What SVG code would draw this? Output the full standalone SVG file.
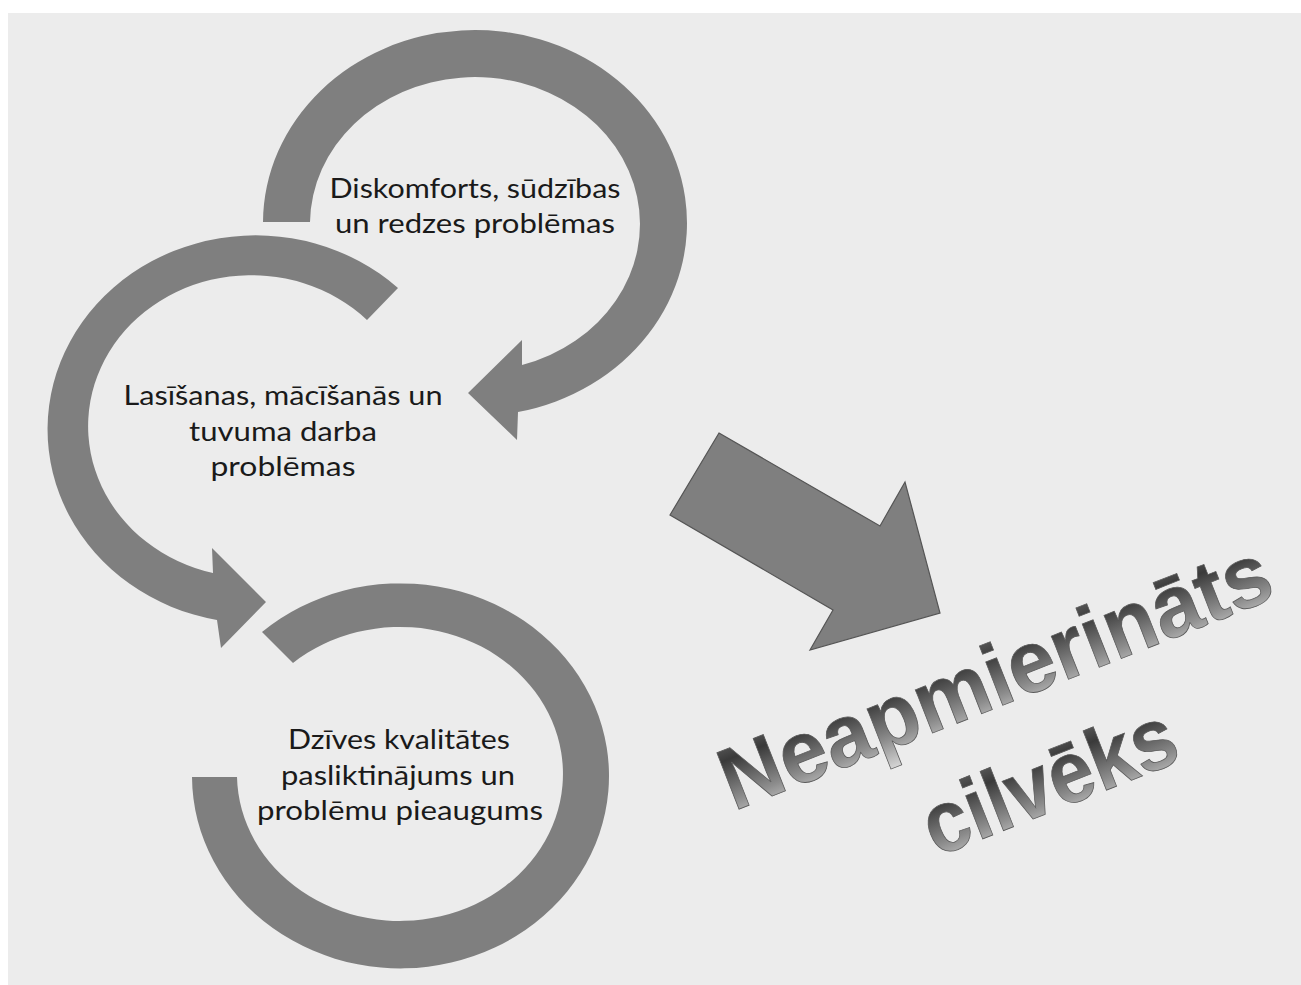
<svg xmlns="http://www.w3.org/2000/svg" width="1301" height="985" viewBox="0 0 1301 985">
  <style>
    .ring { fill: #7f7f7f; }
    .lbl { font-family: Lato, "Liberation Sans", sans-serif; font-size: 27px; fill: #1a1a1a; text-anchor: middle; }
    .big { font-family: "Liberation Sans", Arial, sans-serif; font-weight: bold; font-size: 88px; text-anchor: middle; fill: url(#bigGrad); stroke: #5a5a5a; stroke-width: 0.8; }
    .block { fill: #7f7f7f; stroke: #555555; stroke-width: 1.2; stroke-linejoin: miter; }
  </style>
  <defs>
    <linearGradient id="bigGrad" x1="0" y1="0" x2="0" y2="1">
      <stop offset="0" stop-color="#707070"/>
      <stop offset="0.3" stop-color="#3a3a3a"/>
      <stop offset="0.7" stop-color="#8c8c8c"/>
      <stop offset="1" stop-color="#d6d6d6"/>
    </linearGradient>
  </defs>

  <rect x="0" y="0" width="1301" height="985" fill="#ffffff"/>
  <rect x="8" y="13" width="1293" height="972" fill="#ececec"/>

  <g id="node-diskomforts">
    <path class="ring" d="M263,222 A212,193 0 1 1 518,412 L517,440 L468,393 L522,340 L522,365 A165,147 0 1 0 310,222 Z"/>
    <text class="lbl" x="475" y="198" textLength="291" lengthAdjust="spacingAndGlyphs">Diskomforts, sūdzības</text>
    <text class="lbl" x="475" y="233" textLength="280" lengthAdjust="spacingAndGlyphs">un redzes problēmas</text>
  </g>

  <g id="node-lasisanas">
    <path class="ring" d="M398,288 A208,194 0 1 0 217,620 L221,648 L266,602 L212,548 L213,573 A163,151 0 1 1 367,320 Z"/>
    <text class="lbl" x="283" y="405" textLength="319" lengthAdjust="spacingAndGlyphs">Lasīšanas, mācīšanās un</text>
    <text class="lbl" x="283" y="441" textLength="188" lengthAdjust="spacingAndGlyphs">tuvuma darba</text>
    <text class="lbl" x="283" y="476" textLength="145" lengthAdjust="spacingAndGlyphs">problēmas</text>
  </g>

  <g id="node-dzives">
    <path class="ring" d="M192,777 A208.5,192.5 0 1 0 262,632 L293,663 A163,147 0 1 1 237,777 Z"/>
    <text class="lbl" x="399" y="749" textLength="222" lengthAdjust="spacingAndGlyphs">Dzīves kvalitātes</text>
    <text class="lbl" x="398" y="785" textLength="234" lengthAdjust="spacingAndGlyphs">pasliktinājums un</text>
    <text class="lbl" x="400" y="820" textLength="286" lengthAdjust="spacingAndGlyphs">problēmu pieaugums</text>
  </g>

  <g id="connectors">
    <polygon class="block" points="719,433 880,526 905,482 940,613 810,650 833,610 670,515"/>
  </g>

  <g id="node-result" transform="translate(1006,704) rotate(-21.5)">
    <text class="big" x="0" y="0" textLength="585" lengthAdjust="spacingAndGlyphs">Neapmierināts</text>
    <text class="big" x="12" y="117" textLength="266" lengthAdjust="spacingAndGlyphs">cilvēks</text>
  </g>
</svg>
